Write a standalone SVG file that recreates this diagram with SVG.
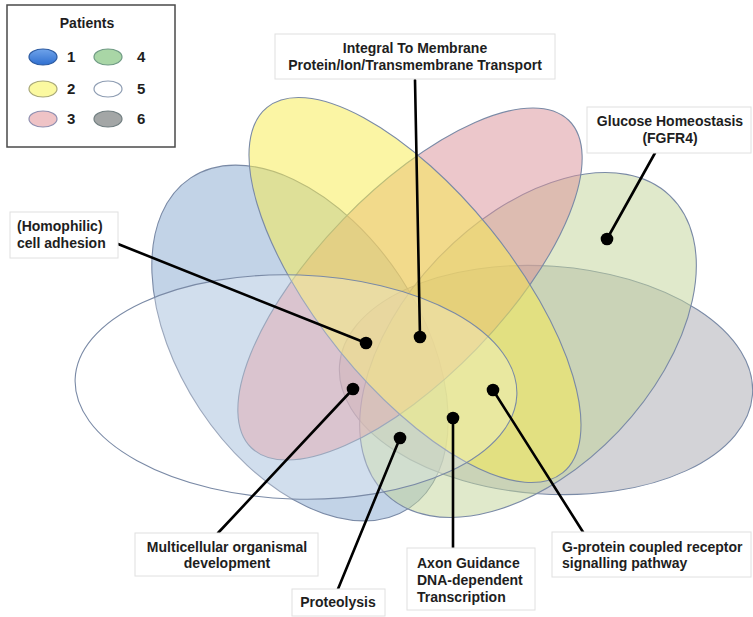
<svg xmlns="http://www.w3.org/2000/svg" width="753" height="617" viewBox="0 0 753 617">
<defs>
<style>
.set{stroke:#7a8aa6;stroke-width:1.1;}
.lbl{fill:#ffffff;stroke:#e0e0e0;stroke-width:1;}
.t{font-family:"Liberation Sans",Arial,sans-serif;font-weight:bold;font-size:14px;fill:#1e1e1e;}
.n{font-size:15px;}
.c{text-anchor:middle;}
.conn line{stroke:#000;stroke-width:2.6;stroke-linecap:round;}
.conn circle{fill:#000;}
.leg{stroke-width:1.2;}
</style>
<linearGradient id="gBlue" x1="0" y1="0" x2="0" y2="1">
<stop offset="0" stop-color="#6fa3ea"/>
<stop offset="1" stop-color="#2f6fd0"/>
</linearGradient>
</defs>
<rect width="753" height="617" fill="#ffffff"/>

<g id="venn">
<ellipse id="set1" class="set" cx="300" cy="343" rx="198" ry="120" transform="rotate(56.5 300 343)" fill="#86a8d0" fill-opacity="0.5"/>
<ellipse id="set6" class="set" cx="546" cy="380" rx="207" ry="114" transform="rotate(4 546 380)" fill="#a7a7b0" fill-opacity="0.5"/>
<ellipse id="set4" class="set" cx="528" cy="345" rx="206" ry="125" transform="rotate(-46.5 528 345)" fill="#c1d398" fill-opacity="0.5"/>
<ellipse id="set3" class="set" cx="410" cy="284" rx="228" ry="93" transform="rotate(-45.9 410 284)" fill="#d98f98" fill-opacity="0.5"/>
<ellipse id="set2" class="set" cx="415" cy="290" rx="235" ry="97" transform="rotate(51 415 290)" fill="#f8ec50" fill-opacity="0.52"/>
<ellipse id="set5" class="set" cx="296" cy="387" rx="221" ry="112" transform="rotate(2 296 387)" fill="#ffffff" fill-opacity="0.25" stroke="#8595b8"/>
</g>

<g id="legend">
<rect x="7" y="5" width="168" height="142" fill="#ffffff" stroke="#4a4a4a" stroke-width="1.5"/>
<text class="t c" x="87" y="28">Patients</text>
<ellipse class="leg" cx="43" cy="57" rx="14" ry="8" fill="url(#gBlue)" stroke="#2c5aa0"/>
<text class="t n" x="67" y="62">1</text>
<ellipse class="leg" cx="108" cy="57" rx="14" ry="8" fill="#a9d6a6" stroke="#6f9a84"/>
<text class="t n" x="137" y="62">4</text>
<ellipse class="leg" cx="43" cy="89" rx="14" ry="8" fill="#fbf9a0" stroke="#a8a878"/>
<text class="t n" x="67" y="94">2</text>
<ellipse class="leg" cx="108" cy="89" rx="14" ry="8" fill="#ffffff" stroke="#8d9cb2"/>
<text class="t n" x="137" y="94">5</text>
<ellipse class="leg" cx="43" cy="119" rx="14" ry="8" fill="#efc3c6" stroke="#8f8fb0"/>
<text class="t n" x="67" y="124">3</text>
<ellipse class="leg" cx="108" cy="119" rx="14" ry="8" fill="#a3a6a6" stroke="#707e80"/>
<text class="t n" x="137" y="124">6</text>
</g>

<g id="connectors" class="conn">
<line x1="415" y1="80" x2="420" y2="337"/>
<line x1="118" y1="244" x2="366" y2="343"/>
<line x1="655" y1="153" x2="607" y2="239"/>
<line x1="353" y1="389" x2="218" y2="533"/>
<line x1="400" y1="438" x2="338" y2="589"/>
<line x1="453" y1="418" x2="453" y2="548"/>
<line x1="493" y1="390" x2="583" y2="532"/>
<circle cx="420" cy="337" r="6.3"/>
<circle cx="366" cy="343" r="6.3"/>
<circle cx="607" cy="239" r="6.3"/>
<circle cx="353" cy="389" r="6.3"/>
<circle cx="400" cy="438" r="6.3"/>
<circle cx="453" cy="418" r="6.3"/>
<circle cx="493" cy="390" r="6.3"/>
</g>

<g id="label-integral">
<rect class="lbl" x="275" y="34" width="280" height="45"/>
<text class="t c" x="415" y="53">Integral To Membrane</text>
<text class="t c" x="415" y="70">Protein/Ion/Transmembrane Transport</text>
</g>
<g id="label-glucose">
<rect class="lbl" x="587" y="107" width="164" height="46"/>
<text class="t c" x="670" y="126">Glucose Homeostasis</text>
<text class="t c" x="670" y="143">(FGFR4)</text>
</g>
<g id="label-homophilic">
<rect class="lbl" x="10" y="212" width="108" height="46"/>
<text class="t" x="17" y="231">(Homophilic)</text>
<text class="t" x="17" y="248">cell adhesion</text>
</g>
<g id="label-multicellular">
<rect class="lbl" x="135" y="533" width="183" height="43"/>
<text class="t c" x="227" y="552">Multicellular organismal</text>
<text class="t c" x="227" y="568">development</text>
</g>
<g id="label-proteolysis">
<rect class="lbl" x="292" y="589" width="93" height="27"/>
<text class="t c" x="338" y="607">Proteolysis</text>
</g>
<g id="label-axon">
<rect class="lbl" x="407" y="548" width="128" height="62"/>
<text class="t" x="417" y="568">Axon Guidance</text>
<text class="t" x="417" y="585">DNA-dependent</text>
<text class="t" x="417" y="602">Transcription</text>
</g>
<g id="label-gprotein">
<rect class="lbl" x="552" y="532" width="199" height="45"/>
<text class="t" x="562" y="552">G-protein coupled receptor</text>
<text class="t" x="562" y="568">signalling pathway</text>
</g>
</svg>
